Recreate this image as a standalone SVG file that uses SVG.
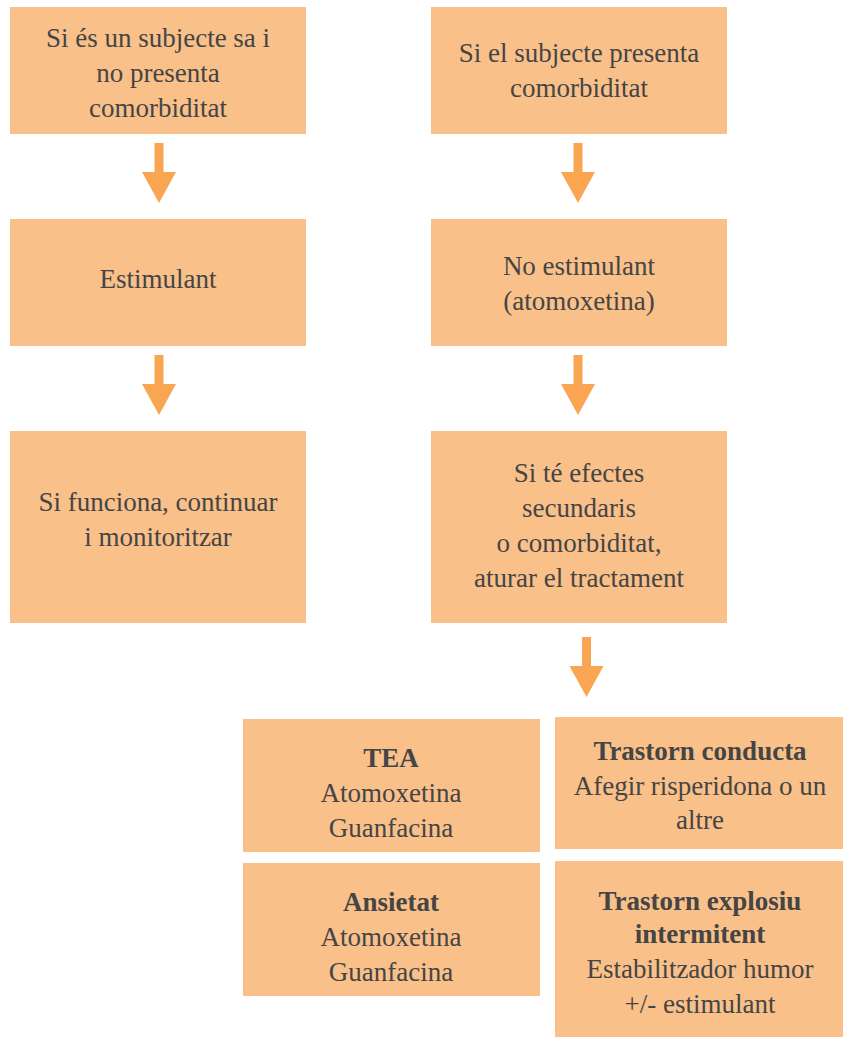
<svg xmlns="http://www.w3.org/2000/svg" width="843" height="1037" viewBox="0 0 843 1037" font-family="'Liberation Serif', 'DejaVu Serif', serif">
<style>
.box{fill:#F9C08A}
.arr{fill:#F9A552}
text{font-family:'Liberation Serif','DejaVu Serif',serif;font-size:27px;fill:#454545;text-anchor:middle}
.b{font-weight:bold}
</style>
<defs>
<path id="arrow" d="M-4.5,0 H4.5 V29 H17 L0,60 L-17,29 H-4.5 Z"/>
</defs>
<rect width="843" height="1037" fill="#fff"/>
<g id="connectors">
<use href="#arrow" class="arr" x="159" y="143"/>
<use href="#arrow" class="arr" x="578" y="143"/>
<use href="#arrow" class="arr" x="159" y="355"/>
<use href="#arrow" class="arr" x="578" y="355"/>
<use href="#arrow" class="arr" x="586.5" y="637"/>
</g>
<g id="n1"><rect class="box" x="10" y="7" width="296" height="127"/>
<text x="158" y="47">Si és un subjecte sa i</text><text x="158" y="82">no presenta</text><text x="158" y="117">comorbiditat</text></g>
<g id="n2"><rect class="box" x="431" y="7" width="296" height="127"/>
<text x="579" y="62">Si el subjecte presenta</text><text x="579" y="97">comorbiditat</text></g>
<g id="n3"><rect class="box" x="10" y="219" width="296" height="127"/>
<text x="158" y="288">Estimulant</text></g>
<g id="n4"><rect class="box" x="431" y="219" width="296" height="127"/>
<text x="579" y="275">No estimulant</text><text x="579" y="310">(atomoxetina)</text></g>
<g id="n5"><rect class="box" x="10" y="431" width="296" height="192"/>
<text x="158" y="511">Si funciona, continuar</text><text x="158" y="546">i monitoritzar</text></g>
<g id="n6"><rect class="box" x="431" y="431" width="296" height="192"/>
<text x="579" y="482">Si té efectes</text><text x="579" y="517">secundaris</text><text x="579" y="552">o comorbiditat,</text><text x="579" y="587">aturar el tractament</text></g>
<g id="n7"><rect class="box" x="243" y="719" width="297" height="133"/>
<text x="391" y="767" class="b">TEA</text><text x="391" y="802">Atomoxetina</text><text x="391" y="837">Guanfacina</text></g>
<g id="n8"><rect class="box" x="243" y="863" width="297" height="133"/>
<text x="391" y="911" class="b">Ansietat</text><text x="391" y="946">Atomoxetina</text><text x="391" y="981">Guanfacina</text></g>
<g id="n9"><rect class="box" x="555" y="717" width="288" height="132"/>
<text x="700" y="760" class="b">Trastorn conducta</text><text x="700" y="795">Afegir risperidona o un</text><text x="700" y="829">altre</text></g>
<g id="n10"><rect class="box" x="555" y="861" width="288" height="176"/>
<text x="700" y="910" class="b">Trastorn explosiu</text><text x="700" y="943" class="b">intermitent</text><text x="700" y="978">Estabilitzador humor</text><text x="700" y="1013">+/- estimulant</text></g>
</svg>
